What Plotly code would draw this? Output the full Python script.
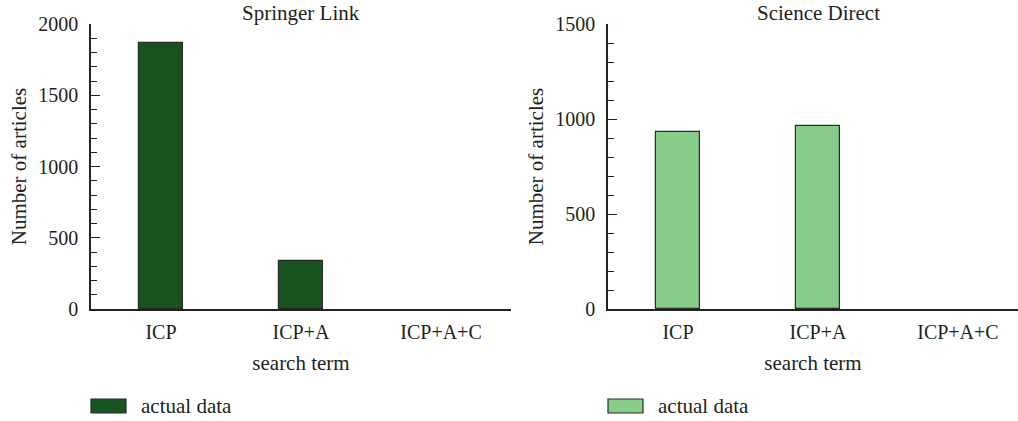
import plotly.graph_objects as go

categories = ["ICP", "ICP+A", "ICP+A+C"]
springer_values = [1867, 337, 0]
science_values = [933, 965, 0]
panel_titles = ["Springer Link", "Science Direct"]
legend_label = "actual data"
dark_green = "#18541f"
light_green = "#88cc8a"
edge = "#2b2b2b"
txt = "#231f20"
FONT = "Liberation Serif"
FS = 20
FS_T = 21

def line_widths(vals):
    return [1.2 if v else 0 for v in vals]

fig = go.Figure()
fig.add_trace(go.Bar(x=categories, y=springer_values, width=0.32,
                     marker=dict(color=dark_green, line=dict(color=edge, width=line_widths(springer_values))),
                     name=legend_label, showlegend=False, xaxis="x", yaxis="y"))
fig.add_trace(go.Bar(x=categories, y=science_values, width=0.32,
                     marker=dict(color=light_green, line=dict(color=edge, width=line_widths(science_values))),
                     name=legend_label, showlegend=False, xaxis="x2", yaxis="y2"))

W, H = 1018, 421
ydom = [(H - 309) / H, (H - 24) / H]
xdom1 = [91 / W, 511 / W]
xdom2 = [608 / W, 1.0]

def xax(dom, rng, anchor):
    return dict(domain=dom, range=rng, type="category", showline=True, linecolor="#222", linewidth=1.5,
                ticks="", showgrid=False, zeroline=False, tickfont=dict(family=FONT, size=FS, color=txt),
                ticklabelstandoff=4, automargin=False, anchor=anchor,
                title=dict(text="search term", font=dict(family=FONT, size=FS_T, color=txt), standoff=14))

def yax(rng, dtick, anchor):
    return dict(domain=ydom, range=rng, dtick=dtick, showline=True, linecolor="#222", linewidth=1.5,
                ticks="inside", ticklen=9, tickcolor="#222", tickwidth=1.2,
                minor=dict(dtick=100, ticks="inside", ticklen=6, tickcolor="#222", tickwidth=1.2, showgrid=False),
                showgrid=False, zeroline=False, anchor=anchor, automargin=False,
                tickfont=dict(family=FONT, size=FS, color=txt), ticklabelstandoff=7,
                title=dict(text="Number of articles", font=dict(family=FONT, size=FS_T, color=txt), standoff=6))

fig.update_layout(
    width=W, height=H, margin=dict(l=0, r=0, t=0, b=0, autoexpand=False),
    plot_bgcolor="white", paper_bgcolor="white", bargap=0,
    xaxis=xax(xdom1, [-0.5, 2.5], "y"), yaxis=yax([0, 2000], 500, "x"),
    xaxis2=xax(xdom2, [-0.5, 2.429], "y2"), yaxis2=yax([0, 1500], 500, "x2"),
)

# panel titles
for title, cx in zip(panel_titles, [301 / W, 818 / W]):
    fig.add_annotation(text=title, x=cx, y=(H - 13) / H, xref="paper", yref="paper", showarrow=False,
                       xanchor="center", yanchor="middle", font=dict(family=FONT, size=FS_T, color=txt))

# legend keys
for col, x0 in zip([dark_green, light_green], [91, 608]):
    fig.add_shape(type="rect", xref="paper", yref="paper", x0=x0 / W, x1=(x0 + 35) / W,
                  y0=(H - 413) / H, y1=(H - 399) / H, fillcolor=col, line=dict(color=edge, width=1.2))
    fig.add_annotation(text=legend_label, x=(x0 + 48) / W, y=(H - 406) / H, xref="paper", yref="paper",
                       showarrow=False, xanchor="left", yanchor="middle", font=dict(family=FONT, size=FS_T, color=txt))

fig.write_html("out.html", config={"displayModeBar": False},
               post_script="document.body.style.margin='0';document.body.style.overflow='hidden';")
